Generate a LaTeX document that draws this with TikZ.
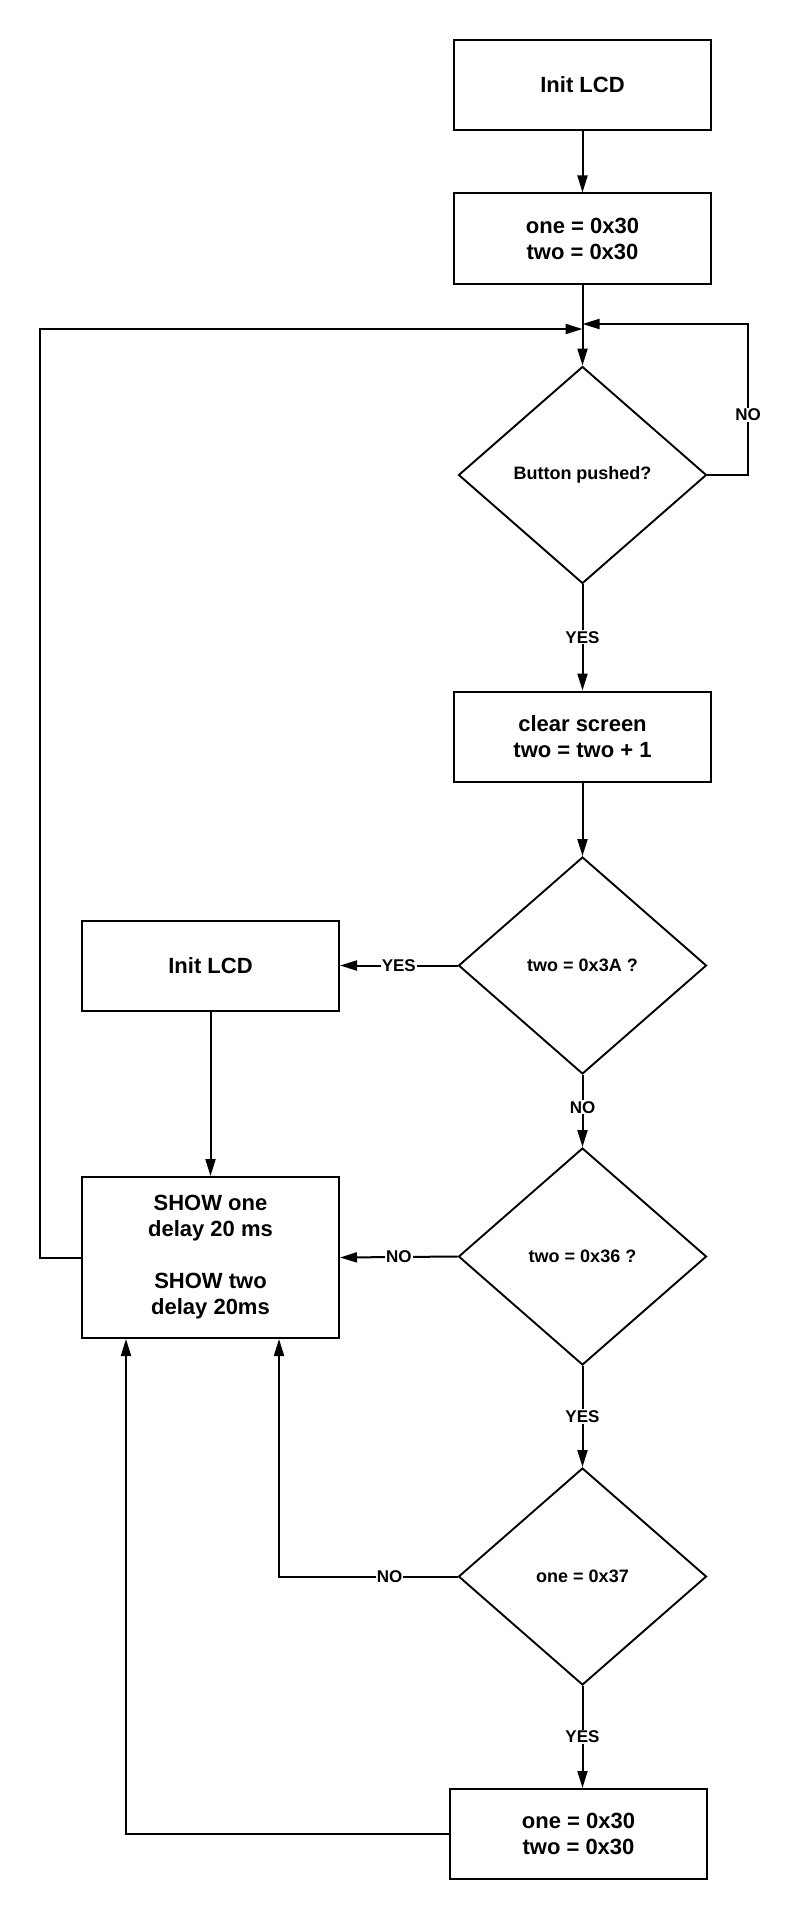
\documentclass[tikz,border=0pt]{standalone}
\usepackage{fontspec}
\setmainfont{Liberation Sans}
\usepackage{tikz}
\usetikzlibrary{arrows.meta,calc,positioning,shapes.geometric}
\definecolor{fcInk}{HTML}{000000}
\definecolor{fcPaper}{HTML}{FFFFFF}
\tikzset{
  fcbox/.style={
    draw=fcInk,
    line width=2pt,
    align=center,
    minimum width=257pt,
    minimum height=90pt,
    inner sep=0pt,
    font=\fontsize{22}{26}\selectfont\bfseries
  },
  fcdiamond/.style={
    diamond,
    draw=fcInk,
    line width=1.9pt,
    align=center,
    minimum width=248pt,
    minimum height=217pt,
    inner sep=0pt,
    font=\fontsize{18}{21}\selectfont\bfseries
  },
  fcarrow/.style={-{Triangle[length=17pt,width=10pt]}, line width=2pt, draw=fcInk},
  fclabel/.style={fill=fcPaper, inner sep=1pt, font=\fontsize{17}{20}\selectfont\bfseries}
}

\begin{document}
\begin{tikzpicture}[x=1pt,y=-1pt]
  \useasboundingbox (0,0) rectangle (802,1921);

  \node[fcbox] (init) at (582.5,85) {Init LCD};
  \node[fcbox] (reset) at (582.5,238.5) {one = 0x30\\two = 0x30};
  \node[fcdiamond] (pushed) at (582.5,475) {Button pushed?};
  \node[fcbox] (clear) at (582.5,736.5) {clear screen\\two = two + 1};
  \node[fcdiamond] (isA) at (582.5,965.5) {two = 0x3A ?};
  \node[fcbox] (reinit) at (210.5,965.5) {Init LCD};
  \node[fcdiamond] (isSix) at (582.5,1256.5) {two = 0x36 ?};
  \node[fcbox, minimum height=161pt] (show) at (210.5,1257.5) {SHOW one\\delay 20 ms\\[26pt]SHOW two\\delay 20ms};
  \node[fcdiamond] (isSeven) at (582.5,1576.5) {one = 0x37};
  \node[fcbox] (resettwo) at (578.5,1834) {one = 0x30\\two = 0x30};

  \coordinate (loopin) at (582.5,329);
  \coordinate (noin) at (582.5,324);
  \coordinate (leftrail) at (40,329);
  \coordinate (rightrail) at (748,324);
  \coordinate (noseven) at (279,1576.5);
  \coordinate (backseven) at (126,1834);

  \draw[fcarrow] (init.south) -- (reset.north);
  \draw[fcarrow] (reset.south) -- (pushed.north);
  \draw[fcarrow] (pushed.east) -| node[fclabel, pos=0.7] {NO} (rightrail) -- (noin);
  \draw[fcarrow] (pushed.south) -- node[fclabel] {YES} (clear.north);
  \draw[fcarrow] (clear.south) -- (isA.north);
  \draw[fcarrow] (isA.west) -- node[fclabel] {YES} (reinit.east);
  \draw[fcarrow] (reinit.south) -- (show.north);
  \draw[fcarrow] (isA.south) -- node[fclabel, pos=0.45] {NO} (isSix.north);
  \draw[fcarrow] (isSix.west) -- node[fclabel] {NO} (show.east);
  \draw[fcarrow] (isSix.south) -- node[fclabel] {YES} (isSeven.north);
  \draw[fcarrow] (isSeven.west) -- node[fclabel, pos=0.38] {NO} (noseven) -- (noseven |- show.south);
  \draw[fcarrow] (isSeven.south) -- node[fclabel] {YES} (isSeven.south |- resettwo.north);
  \draw[fcarrow] (resettwo.west) -- (backseven) -- (backseven |- show.south);
  \draw[fcarrow] (show.west) -| (leftrail) -- (loopin);
\end{tikzpicture}
\end{document}
